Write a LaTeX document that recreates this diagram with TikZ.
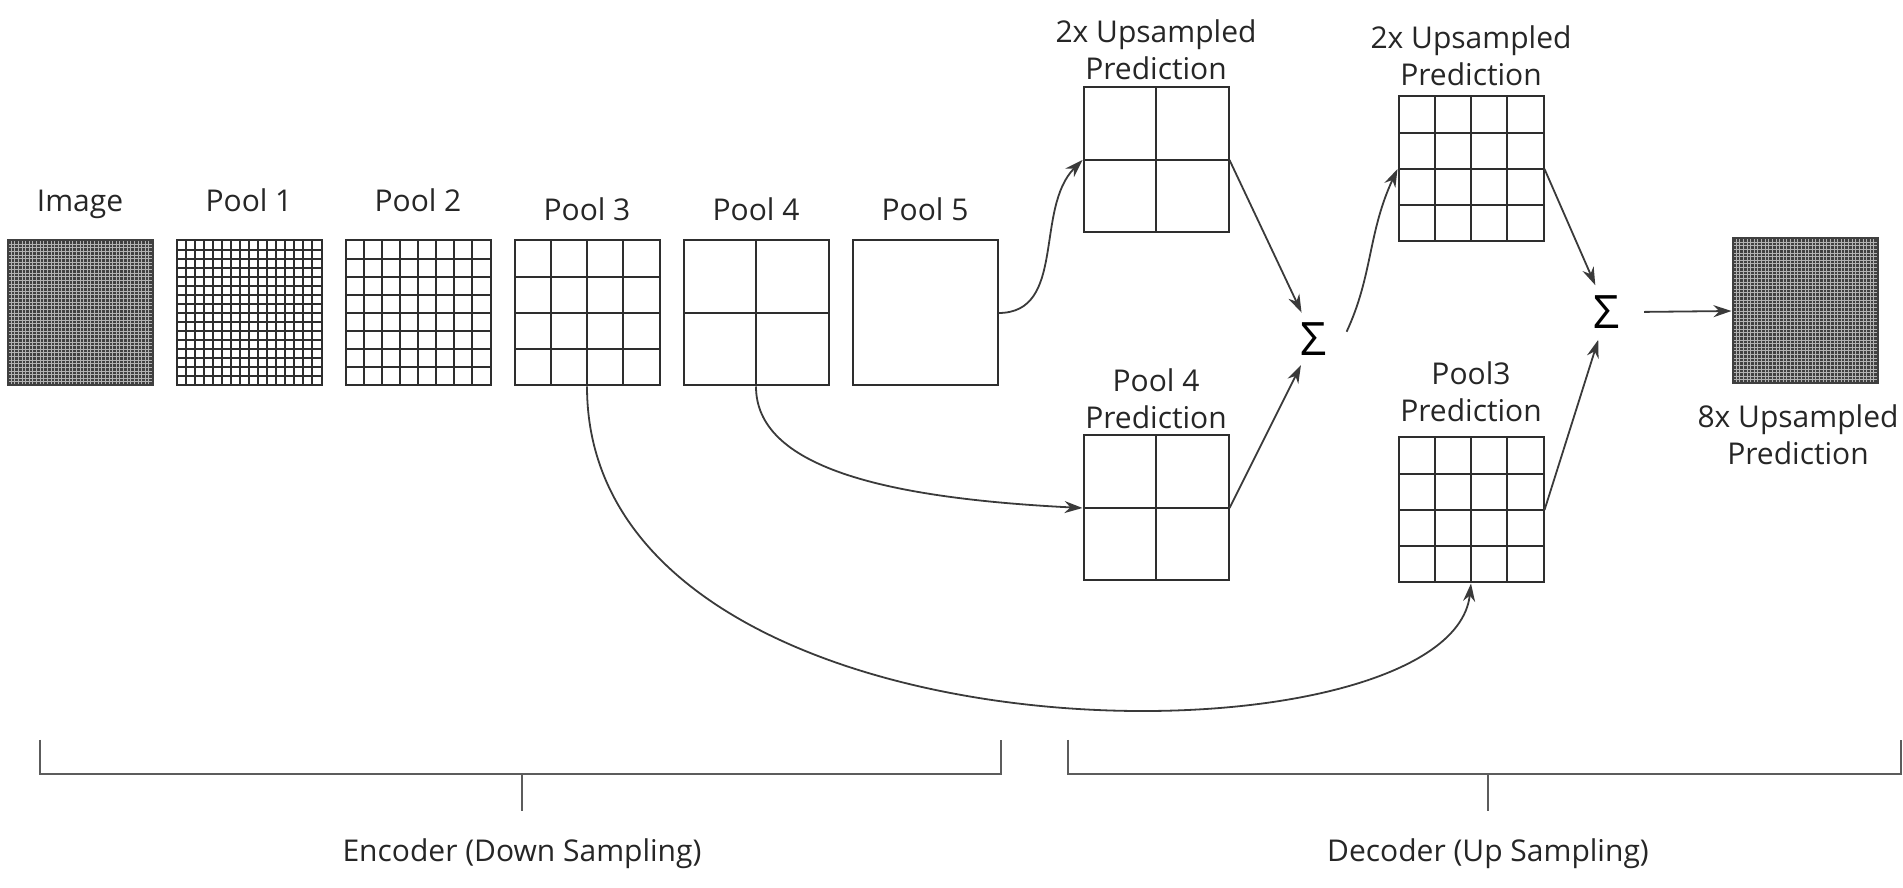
\documentclass[tikz,border=0pt]{standalone}
\usepackage{fontspec}
\setmainfont{Open Sans}
\usetikzlibrary{arrows.meta,calc,positioning}

\definecolor{inkgray}{HTML}{3A3A3A}
\definecolor{boxgray}{HTML}{2E2E2E}
\definecolor{bracegray}{HTML}{5C5C5C}

\begin{document}
\begin{tikzpicture}[x=1pt,y=1pt,>={Stealth[length=18pt,width=12pt]},node distance=169pt,
    cells/.style={path picture={
        \foreach \k in {1,...,#1}
          \draw[boxgray, line width=2pt]
            ([xshift=\k*145pt/#1]path picture bounding box.south west) -- ([xshift=\k*145pt/#1]path picture bounding box.north west)
            ([yshift=\k*145pt/#1]path picture bounding box.south west) -- ([yshift=\k*145pt/#1]path picture bounding box.south east);
    }},
    dense/.style={fill=black!75, draw=black!75, path picture={
        \foreach \k in {1,...,39}
          \draw[black!30, line width=0.8pt]
            ([xshift=\k*145pt/40]path picture bounding box.south west) -- ([xshift=\k*145pt/40]path picture bounding box.north west)
            ([yshift=\k*145pt/40]path picture bounding box.south west) -- ([yshift=\k*145pt/40]path picture bounding box.south east);
    }}]
    \tikzstyle{fmap}=[draw=boxgray, line width=2pt, minimum size=145pt, inner sep=0pt]
    \tikzstyle{lbl}=[inner sep=0pt, text=black!85, font=\fontsize{30}{37}\selectfont]
    \tikzstyle{lblone}=[lbl, text height=22pt, text depth=7.5pt]
    \tikzstyle{lbltwo}=[lbl, align=center]
    \tikzstyle{sumnode}=[circle, minimum size=58pt, inner sep=0pt, font=\fontsize{46}{46}\selectfont]
    \tikzstyle{conn}=[->, draw=inkgray, line width=1.8pt]
    \tikzstyle{brace}=[draw=bracegray, line width=2pt]

    \useasboundingbox (0,0) rectangle (1903,888);

    % encoder
    \node[fmap, dense]     (image) at (80,575) {};
    \node[fmap, cells=16]  (pool1) [right of=image] {};
    \node[fmap, cells=8]   (pool2) [right of=pool1] {};
    \node[fmap, cells=4]   (pool3) [right of=pool2] {};
    \node[fmap, cells=2]   (pool4) [right of=pool3] {};
    \node[fmap]            (pool5) [right of=pool4] {};

    \node[lblone] (limage) [above=20pt of image] {Image};
    \node[lblone] (lpool1) [above=20pt of pool1] {Pool 1};
    \node[lblone] (lpool2) [above=20pt of pool2] {Pool 2};
    \node[lblone] (lpool3) [above=11pt of pool3] {Pool 3};
    \node[lblone] (lpool4) [above=11pt of pool4] {Pool 4};
    \node[lblone] (lpool5) [above=11pt of pool5] {Pool 5};

    % decoder
    \node[fmap, cells=2]   (up1)   at (1156,728) {};
    \node[fmap, cells=2]   (pred4) at (1156,380) {};
    \node[fmap, cells=4]   (up2)   at (1471,719) {};
    \node[fmap, cells=4]   (pred3) at (1471,378) {};
    \node[sumnode]         (sum1)  at (1314,549) {Σ};
    \node[sumnode]         (sum2)  at (1607,576) {Σ};
    \node[fmap, dense]     (out)   at (1805,577) {};

    \node[lbltwo] (lup1)   [above=6pt of up1]   {2x Upsampled\\Prediction};
    \node[lbltwo] (lup2)   [above=9pt of up2]   {2x Upsampled\\Prediction};
    \node[lbltwo] (lpred4) [above=5pt of pred4] {Pool 4\\Prediction};
    \node[lbltwo] (lpred3) [above=14pt of pred3] {Pool3\\Prediction};
    \node[lbltwo] (lout)   [below=20pt of out, xshift=-7pt] {8x Upsampled\\Prediction};

    % connectors
    \draw[conn] (pool5.east) to [out=0, in=225] (up1.west);
    \draw[conn] (up1.east) -- (sum1);
    \draw[conn] (pred4.east) -- (sum1);
    \draw[conn, shorten <=8pt] (sum1.east) to [out=65, in=245] (up2.west);
    \draw[conn] (up2.east) -- (sum2);
    \draw[conn] (pred3.east) -- (sum2);
    \draw[conn, shorten <=8pt] (sum2.east) -- (out.west);
    \draw[conn] (pool4.south) .. controls +(0,-80) and +(-200,10) .. (pred4.west);
    \draw[conn] (pool3.south) .. controls +(0,-390) and +(-20,-190) .. (pred3.south);

    % brackets
    \coordinate (encL) at (40,148);
    \coordinate (encR) at (1001,148);
    \coordinate (encM) at (522,114);
    \coordinate (encT) at (522,77);
    \coordinate (decL) at (1068,148);
    \coordinate (decR) at (1901,148);
    \coordinate (decM) at (1488,114);
    \coordinate (decT) at (1488,77);
    \draw[brace] (encL) |- (encM) -| (encR);
    \draw[brace] (encM) -- (encT);
    \draw[brace] (decL) |- (decM) -| (decR);
    \draw[brace] (decM) -- (decT);
    \node[lblone] (enc) [below=28pt of encT] {Encoder (Down Sampling)};
    \node[lblone] (dec) [below=28pt of decT] {Decoder (Up Sampling)};
\end{tikzpicture}
\end{document}
